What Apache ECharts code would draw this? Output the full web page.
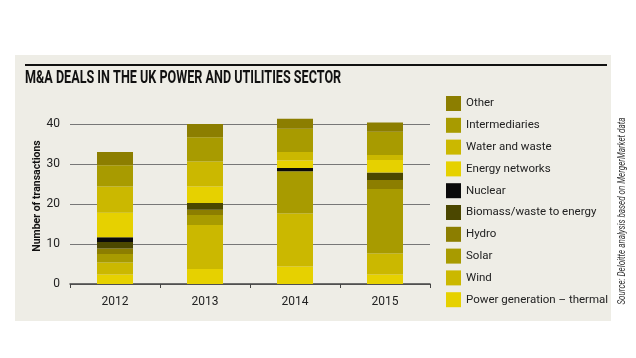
<!DOCTYPE html>
<html>
<head>
<meta charset="utf-8">
<script src="https://cdn.jsdelivr.net/npm/echarts@6/dist/echarts.min.js"></script>
<style>
html,body{margin:0;padding:0;background:#fff;}
#c{width:636px;height:358px;}
</style>
</head>
<body>
<div id="c"></div>
<script>
const FONT = "Roboto, 'Liberation Sans', sans-serif";
const years = ['2012', '2013', '2014', '2015'];
const yTicks = [0, 10, 20, 30, 40];
// stacked bottom to top
const thermal        = [2.4, 3.75, 4.4, 2.4];
const wind           = [3.0, 11.0, 13.2, 5.25];
const solar          = [2.1, 2.5, 10.6, 16.1];
const hydro          = [1.4, 1.3, 0, 2.25];
const biomass        = [1.6, 1.7, 0, 1.9];
const nuclear        = [1.2, 0, 0.8, 0];
const energyNetworks = [6.1, 4.1, 1.9, 3.1];
const waterWaste     = [6.6, 6.25, 2.1, 1.25];
const intermediaries = [5.3, 6.1, 5.8, 5.8];
const other          = [3.3, 3.3, 2.5, 2.3];

const seriesDefs = [
  ['Power generation – thermal', thermal, '#e6d100'],
  ['Wind', wind, '#cbb800'],
  ['Solar', solar, '#a89b00'],
  ['Hydro', hydro, '#8c7e00'],
  ['Biomass/waste to energy', biomass, '#4b4700'],
  ['Nuclear', nuclear, '#0a0a0a'],
  ['Energy networks', energyNetworks, '#e6d100'],
  ['Water and waste', waterWaste, '#cbb800'],
  ['Intermediaries', intermediaries, '#a89b00'],
  ['Other', other, '#8c7e00']
];

const chart = echarts.init(document.getElementById('c'), null, {renderer: 'canvas'});
chart.setOption({
  animation: false,
  backgroundColor: '#ffffff',
  graphic: [
    {type: 'rect', left: 15, top: 55, shape: {width: 596, height: 266}, style: {fill: '#eeede6'}, z: -10},
    {type: 'rect', left: 25, top: 64, shape: {width: 582, height: 2}, style: {fill: '#111'}},
    {type: 'text', x: 25, y: 69, scaleX: 0.70, style: {text: 'M&A DEALS IN THE UK POWER AND UTILITIES SECTOR', font: 'bold 18px ' + FONT, fill: '#111', verticalAlign: 'top'}},
    {type: 'text', x: 622, y: 211, rotation: Math.PI / 2, scaleX: 0.73, style: {text: 'Source: Deloitte analysis based on MergerMarket data', font: 'italic 11px ' + FONT, fill: '#333', align: 'center', verticalAlign: 'middle'}}
  ],
  legend: {
    orient: 'vertical',
    left: 446,
    top: 96,
    padding: 0,
    itemWidth: 15,
    itemHeight: 15,
    itemGap: 6.8,
    icon: 'rect',
    selectedMode: false,
    data: seriesDefs.map(d => d[0]).reverse(),
    textStyle: {fontFamily: FONT, fontSize: 11.5, color: '#222'}
  },
  grid: {left: 70, right: 206, top: 124, bottom: 74},
  xAxis: {
    type: 'category',
    data: years,
    axisLine: {lineStyle: {color: '#444', width: 1.5}},
    axisTick: {show: true, length: 4, lineStyle: {color: '#444'}},
    axisLabel: {fontFamily: FONT, fontSize: 12, color: '#222', margin: 12}
  },
  yAxis: {
    type: 'value',
    min: yTicks[0],
    max: yTicks[yTicks.length - 1],
    interval: 10,
    name: 'Number of transactions',
    nameLocation: 'middle',
    nameGap: 27,
    nameMoveOverlap: false,
    nameTextStyle: {fontFamily: FONT, fontSize: 10.5, fontWeight: 'bold', color: '#111', padding: [0, 0, 0, 16]},
    axisLine: {show: false},
    axisTick: {show: false},
    axisLabel: {fontFamily: FONT, fontSize: 12, color: '#222', margin: 10},
    splitLine: {lineStyle: {color: '#777', width: 1}}
  },
  series: seriesDefs.map(d => ({
    name: d[0],
    type: 'bar',
    stack: 'total',
    data: d[1],
    barWidth: 36,
    clip: false,
    itemStyle: {color: d[2]},
    emphasis: {disabled: true}
  }))
});
</script>
</body>
</html>
